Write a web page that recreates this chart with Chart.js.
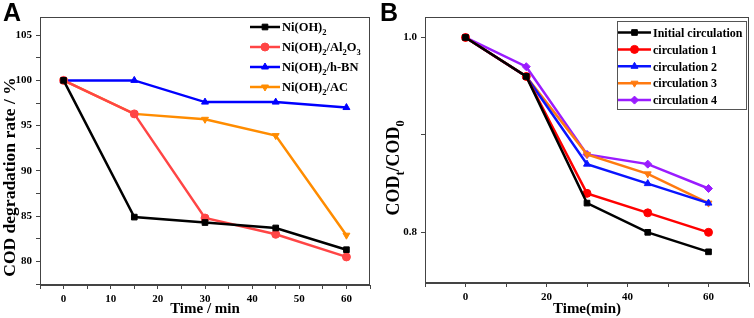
<!DOCTYPE html>
<html>
<head>
<meta charset="utf-8">
<script src="https://cdn.jsdelivr.net/npm/chart.js@4.4.1/dist/chart.umd.min.js"></script>
<style>
  body { margin: 0; background: #fff; width: 754px; height: 318px; overflow: hidden; position: relative; }
  .panel { position: absolute; top: 0; width: 377px; height: 318px; }
  .tag { position: absolute; top: -2px; font: bold 25px "Liberation Sans", Arial, sans-serif; color: #000; }
</style>
</head>
<body>
<div class="panel" style="left:0"><canvas id="chartA" width="377" height="318"></canvas></div>
<div class="panel" style="left:377px"><canvas id="chartB" width="377" height="318"></canvas></div>
<div class="tag" style="left:3px">A</div>
<div class="tag" style="left:380px">B</div>
<script>
// panel A: COD degradation rate vs time
var timeA = [0, 15, 30, 45, 60];
var niOH2 = [100, 84.9, 84.3, 83.7, 81.3];
var niAl2O3 = [100, 96.3, 84.8, 83.0, 80.5];
var niHBN = [100, 100, 97.6, 97.6, 97.0];
var niAC = [100, 96.3, 95.7, 93.9, 82.9];
var labelsA = ["Ni(OH)_2", "Ni(OH)_2/Al_2O_3", "Ni(OH)_2/h-BN", "Ni(OH)_2/AC"];

// panel B: CODt/COD0 for the recycling runs
var timeB = [0, 15, 30, 45, 60];
var initialRun = [1.0, 0.96, 0.83, 0.80, 0.78];
var circ1 = [1.0, 0.96, 0.84, 0.82, 0.80];
var circ2 = [1.0, 0.96, 0.87, 0.85, 0.83];
var circ3 = [1.0, 0.96, 0.88, 0.86, 0.83];
var circ4 = [1.0, 0.97, 0.88, 0.87, 0.845];
var labelsB = ["Initial circulation", "circulation 1", "circulation 2", "circulation 3", "circulation 4"];

var serif = "'Liberation Serif', 'Times New Roman', serif";
var axisColor = "#444";

function pts(xs, ys) {
    return xs.map(function (x, i) { return { x: x, y: ys[i] }; });
}

function plain(s) { return s.replace(/_/g, ""); }

// draws text where "_x" means x as subscript
function drawRich(ctx, s, x, baseline, size, measureOnly) {
    var parts = s.split(/(_.)/);
    var cx = x;
    parts.forEach(function (p) {
        if (!p) return;
        var sub = p.charAt(0) === "_";
        var t = sub ? p.substring(1) : p;
        ctx.font = "bold " + (sub ? size * 0.68 : size) + "px " + serif;
        if (!measureOnly) ctx.fillText(t, cx, baseline + (sub ? size * 0.28 : 0));
        cx += ctx.measureText(t).width;
    });
    return cx - x;
}

function mark(ctx, ds, x, y) {
    ctx.fillStyle = ds.borderColor;
    ctx.strokeStyle = ds.borderColor;
    ctx.lineWidth = 1;
    if (Chart.helpers && Chart.helpers.drawPoint) {
        Chart.helpers.drawPoint(ctx, { pointStyle: ds.pointStyle, rotation: ds.pointRotation || 0, radius: ds.pointRadius, borderWidth: 1 }, x, y);
    } else {
        ctx.fillRect(x - 3, y - 3, 6, 6);
    }
}

function legendPlugin(o) {
    return {
        id: "richLegend",
        afterDraw: function (chart) {
            var ctx = chart.ctx;
            ctx.save();
            if (o.box) {
                ctx.strokeStyle = "#555";
                ctx.lineWidth = 1;
                ctx.strokeRect(o.box[0], o.box[1], o.box[2], o.box[3]);
            }
            chart.data.datasets.forEach(function (ds, i) {
                var y = o.y0 + i * o.dy;
                ctx.strokeStyle = ds.borderColor;
                ctx.lineWidth = 2.5;
                ctx.beginPath();
                ctx.moveTo(o.lx0, y);
                ctx.lineTo(o.lx1, y);
                ctx.stroke();
                mark(ctx, ds, (o.lx0 + o.lx1) / 2, y);
                ctx.fillStyle = "#000";
                ctx.textBaseline = "alphabetic";
                ctx.textAlign = "left";
                drawRich(ctx, o.labels[i], o.tx, y + o.size * 0.35, o.size);
            });
            ctx.restore();
        }
    };
}

var framePlugin = {
    id: "frame",
    beforeDatasetsDraw: function (chart) {
        var a = chart.chartArea, ctx = chart.ctx;
        ctx.save();
        ctx.strokeStyle = axisColor;
        ctx.lineWidth = 1;
        ctx.strokeRect(a.left + 0.5, a.top + 0.5, a.right - a.left - 1, a.bottom - a.top - 1);
        ctx.restore();
    }
};

// rotated y title, with subscripts, centred on cy
function yTitlePlugin(text, x, cy, size) {
    return {
        id: "yTitle",
        afterDraw: function (chart) {
            var ctx = chart.ctx;
            ctx.save();
            ctx.translate(x, cy);
            ctx.rotate(-Math.PI / 2);
            ctx.fillStyle = "#000";
            ctx.textBaseline = "alphabetic";
            ctx.textAlign = "left";
            var w = drawRich(ctx, text, 0, 0, size, true);
            drawRich(ctx, text, -w / 2, size * 0.35, size);
            ctx.restore();
        }
    };
}

function line(label, xs, ys, color, style, rot) {
    return {
        label: plain(label),
        data: pts(xs, ys),
        borderColor: color,
        backgroundColor: color,
        borderWidth: 2.5,
        pointStyle: style,
        pointRotation: rot || 0,
        pointRadius: 4,
        pointBorderWidth: 1,
        tension: 0,
        clip: false
    };
}

function axis(min, max, step, labelFn, title, size, fixed) {
    return {
        type: "linear",
        min: min,
        max: max,
        border: { color: axisColor, width: 1 },
        grid: { drawOnChartArea: false, tickLength: 4, color: axisColor },
        ticks: {
            stepSize: step,
            includeBounds: false,
            autoSkip: false,
            maxRotation: 0,
            padding: 4,
            color: "#000",
            font: { family: serif, weight: "bold", size: 11 },
            callback: labelFn
        },
        title: {
            display: !!title,
            text: title,
            color: "#000",
            font: { family: serif, weight: "bold", size: size, lineHeight: 1.1 },
            padding: { top: 0, bottom: 1 }
        },
        afterFit: fixed
    };
}

var ctx = document.getElementById("chartA");
var chartA = new Chart(ctx, {
    type: "line",
    data: {
        datasets: [
            line(labelsA[0], timeA, niOH2, "#000000", "rect"),
            line(labelsA[1], timeA, niAl2O3, "#ff4545", "circle"),
            line(labelsA[2], timeA, niHBN, "#0000ff", "triangle"),
            line(labelsA[3], timeA, niAC, "#ff8c00", "triangle", 180)
        ]
    },
    options: {
        responsive: false,
        animation: false,
        layout: { padding: { top: 17, right: 7, left: 0, bottom: 0 } },
        plugins: { legend: { display: false }, tooltip: { enabled: false } },
        scales: {
            x: axis(-5, 65, 5, function (v) { return v % 10 === 0 ? v : ""; }, "Time / min", 15,
                function (s) { s.height = 33; }),
            y: axis(77.4, 107, 2.5, function (v) { return v % 5 === 0 ? v : ""; }, "", 15,
                function (s) { s.width = 40; })
        }
    },
    plugins: [framePlugin, yTitlePlugin("COD degradation rate / %", 9, 177, 17.5),
        legendPlugin({ labels: labelsA, y0: 27, dy: 20, lx0: 250, lx1: 280, tx: 282, size: 12.5 })]
});

var ctx = document.getElementById("chartB");
var chartB = new Chart(ctx, {
    type: "line",
    data: {
        datasets: [
            line(labelsB[0], timeB, initialRun, "#000000", "rect"),
            line(labelsB[1], timeB, circ1, "#ff0000", "circle"),
            line(labelsB[2], timeB, circ2, "#0a14ff", "triangle"),
            line(labelsB[3], timeB, circ3, "#ff7a10", "triangle", 180),
            line(labelsB[4], timeB, circ4, "#9a1cff", "rectRot")
        ]
    },
    options: {
        responsive: false,
        animation: false,
        layout: { padding: { top: 17, right: 4, left: 0, bottom: 0 } },
        plugins: { legend: { display: false }, tooltip: { enabled: false } },
        scales: {
            x: axis(-10, 70, 10, function (v) { return v % 20 === 0 ? v : ""; }, "Time(min)", 15,
                function (s) { s.height = 35; }),
            y: axis(0.748, 1.021, 0.1, function (v) { return Math.abs(v - 0.9) < 1e-6 ? "" : v.toFixed(1); }, "", 15,
                function (s) { s.width = 48; })
        }
    },
    plugins: [framePlugin, yTitlePlugin("COD_t/COD_0", 16, 168, 18),
        legendPlugin({ labels: labelsB, y0: 32.5, dy: 16.9, lx0: 241, lx1: 274, tx: 276, size: 12, box: [240.5, 21.5, 129, 88] })]
});
</script>
</body>
</html>
